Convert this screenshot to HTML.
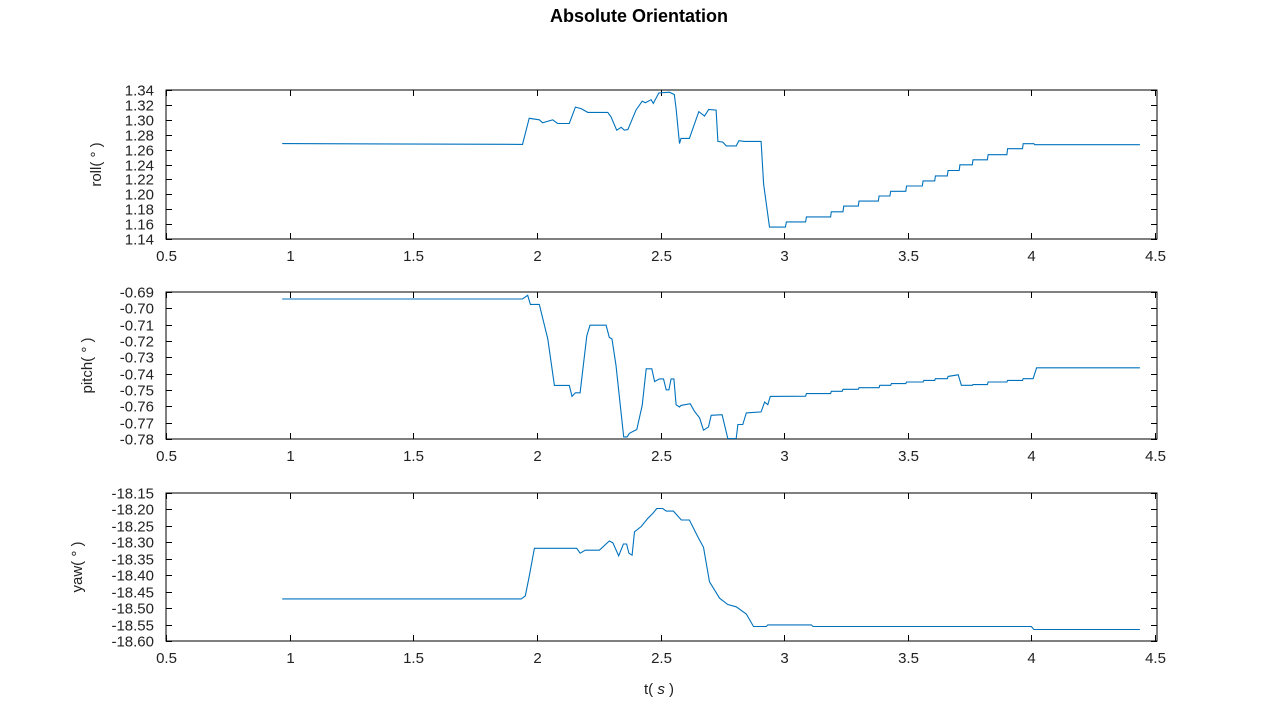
<!DOCTYPE html>
<html><head><meta charset="utf-8"><style>
body{margin:0;background:#fff;width:1280px;height:720px;overflow:hidden}
svg{display:block;font-family:"Liberation Sans",sans-serif}
</style></head><body>
<svg id="chart" width="1280" height="720">
<text x="639" y="22" text-anchor="middle" font-size="18" font-weight="bold" fill="#000">Absolute Orientation</text>
<text x="659" y="694" text-anchor="middle" font-size="15" fill="#222">t( <tspan font-style="italic">s</tspan> )</text>
</svg>
<script>
const xTicks=[0.5,1,1.5,2,2.5,3,3.5,4,4.5];
const rollTicks=[1.14,1.16,1.18,1.20,1.22,1.24,1.26,1.28,1.30,1.32,1.34];
const pitchTicks=[-0.78,-0.77,-0.76,-0.75,-0.74,-0.73,-0.72,-0.71,-0.70,-0.69];
const yawTicks=[-18.60,-18.55,-18.50,-18.45,-18.40,-18.35,-18.30,-18.25,-18.20,-18.15];

const rollT=[0.970,1.942,1.969,2.010,2.023,2.064,2.084,2.131,2.156,2.179,2.206,2.287,2.300,2.323,2.341,2.354,2.368,2.401,2.426,2.439,2.462,2.471,2.493,2.536,2.556,2.563,2.577,2.583,2.617,2.655,2.678,2.695,2.725,2.732,2.752,2.766,2.806,2.817,2.840,2.907,2.917,2.941,3.005,3.009,3.087,3.090,3.188,3.191,3.238,3.241,3.300,3.303,3.381,3.384,3.428,3.431,3.492,3.495,3.559,3.562,3.609,3.612,3.660,3.663,3.708,3.711,3.761,3.764,3.822,3.825,3.901,3.904,3.964,3.967,4.010,4.014,4.439];
const rollV=[1.268,1.267,1.302,1.300,1.296,1.300,1.295,1.295,1.317,1.315,1.310,1.310,1.304,1.286,1.290,1.286,1.287,1.313,1.325,1.323,1.327,1.322,1.336,1.337,1.334,1.315,1.268,1.275,1.275,1.311,1.305,1.314,1.313,1.271,1.270,1.265,1.265,1.272,1.271,1.271,1.214,1.156,1.156,1.163,1.163,1.1697,1.1697,1.1765,1.1765,1.1842,1.1842,1.1909,1.1909,1.1977,1.1977,1.204,1.204,1.2112,1.2112,1.218,1.218,1.2247,1.2247,1.2319,1.2319,1.2396,1.2396,1.2463,1.2463,1.2531,1.2531,1.2612,1.2612,1.2679,1.2679,1.2666,1.2666];

const pitchT=[0.970,1.942,1.963,1.974,2.010,2.044,2.071,2.131,2.142,2.156,2.175,2.202,2.215,2.280,2.293,2.304,2.320,2.351,2.365,2.374,2.404,2.426,2.442,2.465,2.476,2.496,2.512,2.523,2.534,2.543,2.554,2.563,2.577,2.583,2.620,2.637,2.658,2.674,2.694,2.705,2.749,2.772,2.806,2.813,2.833,2.847,2.907,2.921,2.934,2.944,3.087,3.090,3.188,3.191,3.235,3.238,3.300,3.303,3.384,3.387,3.431,3.434,3.492,3.495,3.562,3.565,3.609,3.612,3.660,3.663,3.704,3.717,3.761,3.764,3.822,3.825,3.901,3.904,3.964,3.967,4.007,4.021,4.439];
const pitchV=[-0.6943,-0.6943,-0.692,-0.6976,-0.6976,-0.7188,-0.7472,-0.7472,-0.7539,-0.7517,-0.7517,-0.7168,-0.7103,-0.7103,-0.7178,-0.7188,-0.735,-0.7787,-0.7787,-0.7766,-0.7742,-0.7594,-0.737,-0.737,-0.7448,-0.7432,-0.7432,-0.7499,-0.7499,-0.7432,-0.7432,-0.759,-0.7604,-0.7594,-0.7584,-0.763,-0.7671,-0.7746,-0.7726,-0.7655,-0.7651,-0.7797,-0.7797,-0.7711,-0.7711,-0.764,-0.7634,-0.7574,-0.759,-0.7539,-0.7538,-0.7522,-0.7522,-0.7508,-0.7508,-0.7496,-0.7496,-0.7486,-0.7486,-0.7471,-0.7471,-0.7461,-0.7461,-0.7451,-0.7451,-0.7441,-0.7441,-0.7431,-0.7431,-0.7417,-0.7407,-0.7471,-0.7471,-0.7467,-0.7467,-0.7451,-0.7451,-0.7441,-0.7441,-0.7431,-0.7431,-0.7364,-0.7364];

const yawT=[0.970,1.936,1.953,1.969,1.990,2.161,2.175,2.196,2.253,2.293,2.307,2.331,2.350,2.363,2.372,2.385,2.395,2.422,2.449,2.469,2.485,2.509,2.523,2.552,2.584,2.617,2.651,2.674,2.698,2.739,2.772,2.806,2.847,2.876,2.928,2.934,3.110,3.117,4.000,4.010,4.439];
const yawV=[-18.472,-18.472,-18.463,-18.404,-18.318,-18.318,-18.333,-18.324,-18.324,-18.296,-18.301,-18.341,-18.305,-18.305,-18.333,-18.339,-18.268,-18.252,-18.227,-18.212,-18.197,-18.197,-18.205,-18.205,-18.232,-18.232,-18.283,-18.315,-18.420,-18.470,-18.489,-18.496,-18.518,-18.556,-18.556,-18.551,-18.551,-18.556,-18.556,-18.565,-18.565];

const NS='http://www.w3.org/2000/svg';
const svg=document.getElementById('chart');
function mk(tag,attrs,parent){const e=document.createElementNS(NS,tag);for(const k in attrs)e.setAttribute(k,attrs[k]);(parent||svg).appendChild(e);return e;}
const X0=166,X1=1157;
function xs(t){return X0+(t-0.5)/(4.0)*(X1-X0-2);}

const panels=[
 {name:'roll',top:90,bot:239,ticks:rollTicks,t:rollT,v:rollV,dec:2,lx:101,label:'roll( ° )'},
 {name:'pitch',top:292,bot:439,ticks:pitchTicks,t:pitchT,v:pitchV,dec:2,lx:92,label:'pitch( ° )'},
 {name:'yaw',top:493,bot:641,ticks:yawTicks,t:yawT,v:yawV,dec:2,lx:82,label:'yaw( ° )'}
];
panels.forEach(p=>{
 const lo=p.ticks[0],hi=p.ticks[p.ticks.length-1];
 const ys=v=>p.bot-(v-lo)/(hi-lo)*(p.bot-p.top);
 const g=mk('g',{});
 
 
 const box=mk('rect',{x:X0,y:p.top,width:X1-X0,height:p.bot-p.top,fill:'none',stroke:'#000','stroke-width':1},g);
 
 
 xTicks.forEach(t=>{
  const x=Math.round(xs(t))+0.5;
  mk('line',{x1:x,x2:x,y1:p.bot,y2:p.bot-6,stroke:'#000'},g);
  mk('line',{x1:x,x2:x,y1:p.top,y2:p.top+6,stroke:'#000'},g);
  const tx=mk('text',{x:x,y:p.bot+22,'text-anchor':'middle','font-size':15,fill:'#222'},g);
  tx.textContent=String(t);
  
  
 });
 p.ticks.forEach(v=>{
  const y=Math.round(ys(v))+0.5;
  mk('line',{x1:X0,x2:X0+6,y1:y,y2:y,stroke:'#000'},g);
  mk('line',{x1:X1,x2:X1-6,y1:y,y2:y,stroke:'#000'},g);
  const tx=mk('text',{x:X0-12,y:y+5,'text-anchor':'end','font-size':15,fill:'#222'},g);
  tx.textContent=v.toFixed(p.dec);
  
  
 });
 const cy=(p.top+p.bot)/2;
 const yl=mk('text',{x:p.lx,y:cy,'text-anchor':'middle','font-size':15,fill:'#222',transform:`rotate(-90 ${p.lx} ${cy})`},g);
 yl.textContent=p.label;
 
 
 const d=p.t.map((t,i)=>(i?'L':'M')+xs(t).toFixed(1)+' '+ys(p.v[i]).toFixed(1)).join(' ');
 const path=mk('path',{d:d,fill:'none',stroke:'#0072bd','stroke-width':1.1},g);
 
 
});
</script>
</body></html>
